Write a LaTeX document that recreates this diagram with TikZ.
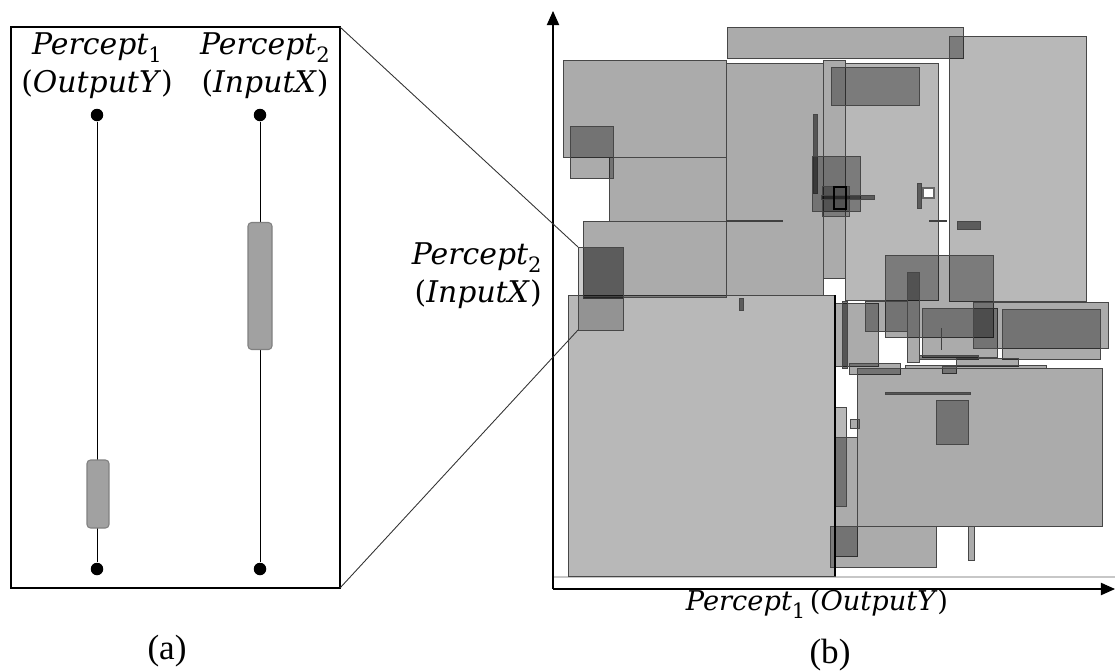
\documentclass[tikz,border=0pt]{standalone}
\usepackage{fontspec}
\setmainfont{Liberation Serif}
\newfontfamily\labfont{DejaVu Serif}
\usetikzlibrary{arrows.meta}
\newcommand{\percsub}[1]{\textit{Percept}\raisebox{-0.3em}{\fontsize{12}{12}\selectfont #1}}
\begin{document}
\begin{tikzpicture}[x=0.02cm,y=-0.02cm,
  lab/.style={font=\labfont\fontsize{17}{17}\selectfont, inner sep=0pt, anchor=base},
  captext/.style={font=\fontsize{20}{20}\selectfont, inner sep=0pt, anchor=base},
  dot/.style={circle, fill=black, inner sep=0pt, minimum size=0.25cm},
  bar/.style={rectangle, rounded corners=2pt, fill=black!37, draw=black!50, line width=0.6pt, inner sep=0pt},
  rb/.style={draw=black!72, line width=0.55pt, fill=black, fill opacity=0.33},
  rl/.style={draw=black!72, line width=0.55pt, fill=black, fill opacity=0.28},
  rd/.style={draw=black!72, line width=0.55pt, fill=black, fill opacity=0.5},
  ln/.style={draw=black!75, line width=0.7pt},
  axis/.style={draw=black, line width=0.6pt, -{Triangle[width=7pt,length=8pt]}}
]
\useasboundingbox (0,0) rectangle (1115,670);

% ---------------- panel (a) ----------------
\coordinate (BTL) at (11,27);
\coordinate (BBR) at (340,588);
\coordinate (BTR) at (340,27);
\draw[line width=1.1pt] (BTL) rectangle (BBR);

\node[lab] (p1a) at (97,54) {\percsub{1}};
\node[lab] (p1b) at (97,92) {(\textit{OutputY})};
\node[lab] (p2a) at (265,54) {\percsub{2}};
\node[lab] (p2b) at (265,92) {(\textit{InputX})};

\node[dot] (d1t) at (97,115) {};
\node[dot] (d1b) at (97,569) {};
\node[dot] (d2t) at (260,115) {};
\node[dot] (d2b) at (260,569) {};
\draw[line width=0.55pt] (d1t) -- (d1b);
\draw[line width=0.55pt] (d2t) -- (d2b);
\node[bar, minimum width=0.44cm, minimum height=1.36cm] (b1) at (98,494) {};
\node[bar, minimum width=0.48cm, minimum height=2.54cm] (b2) at (260,286) {};

\node[captext] (la) at (167,659) {(a)};

% ---------------- panel (b) ----------------
\coordinate (O) at (553,589);
\coordinate (Ytop) at (553,11);
\coordinate (Xend) at (1115,589);
\draw[black!22, line width=1.6pt] (553,577) -- (1115,577);

% base layer
\draw[rl] (568,295) rectangle (835,576);
\draw[rb] (563,60) rectangle (726,157);
\draw[rb] (609,157) rectangle (726,221);
\draw[rb] (583,221) rectangle (726,297);
\draw[rb] (726,63) rectangle (823,295);
\draw[ln] (726,221) -- (783,221);
\draw[rb] (727,27) rectangle (963,58);
\draw[rb] (823,60) rectangle (845,278);
\draw[rl] (845,63) rectangle (938,300);
\draw[rl] (949,36) rectangle (1086,301);
\draw[rb] (570,126) rectangle (613,178);

% magnifier
\draw[rb] (583,247) rectangle (623,298);
\coordinate (MTL) at (578,247);
\coordinate (MBL) at (578,330);
\draw[draw=black!72, line width=0.55pt, fill=black, fill opacity=0.2] (MTL) rectangle (623,330);

% upper middle cluster
\draw[rd] (813,114) rectangle (817,193);
\draw[rb] (831,67) rectangle (919,105);
\draw[rb] (812,156) rectangle (860,211);
\draw[rl] (822,186) rectangle (849,216);
\draw[rd] (821,195) rectangle (874,199);
\draw[black, line width=0.8pt] (834,187) rectangle (846,209);
\draw[rd] (917,183) rectangle (921,208);
\draw[draw=black!60, line width=0.6pt, fill=white] (923,188) rectangle (934,198);
\draw[ln] (929,221) -- (947,221);
\draw[rd] (957,221) rectangle (980,229);
\draw[rd] (739,298) rectangle (743,310);

% right middle cluster
\draw[rb] (885,255) rectangle (993,337);
\draw[rb] (907,272) rectangle (919,362);
\draw[rb] (835,303) rectangle (878,366);
\draw[rd] (842,301) rectangle (847,368);
\draw[rb] (865,301) rectangle (907,331);
\draw[rb] (922,308) rectangle (997,357);
\draw[ln, line width=0.5pt] (941,328) -- (941,350);
\draw[rb] (973,302) rectangle (1108,348);
\draw[rb] (1002,309) rectangle (1100,359);
\draw[rd] (919,355) rectangle (978,359);
\draw[rb] (849,363) rectangle (900,374);
\draw[rb] (956,358) rectangle (1018,366);
\draw[rb] (905,365) rectangle (1046,368);
\draw[rb] (942,366) rectangle (956,373);

% lower right
\draw[rb] (857,368) rectangle (1102,526);
\draw[rd] (885,392) rectangle (970,394);
\draw[rb] (936,400) rectangle (968,444);
\draw[rl] (835,407) rectangle (846,437);
\draw[rb] (850,419) rectangle (859,428);
\draw[rb] (835,437) rectangle (857,556);
\draw[rb] (835,437) rectangle (846,506);
\draw[rb] (830,526) rectangle (936,567);
\draw[rb] (968,526) rectangle (974,560);
\draw[black, line width=0.6pt] (835,295) -- (835,576);

% axes
\draw[axis] (O) -- (Ytop);
\draw[axis] (O) -- (Xend);

% zoom lines
\draw[black!80, line width=0.5pt] (BTR) -- (MTL);
\draw[black!80, line width=0.5pt] (BBR) -- (MBL);

% labels
\node[lab, anchor=base east] (p2l1) at (542,264) {\percsub{2}};
\node[lab, anchor=base east] (p2l2) at (542,302) {(\textit{InputX})};
\node[lab, font=\labfont\fontsize{15.5}{15.5}\selectfont] (p1l) at (817,610) {\percsub{1}\,(\textit{OutputY})};
\node[captext] (lb) at (830,663) {(b)};
\end{tikzpicture}
\end{document}
